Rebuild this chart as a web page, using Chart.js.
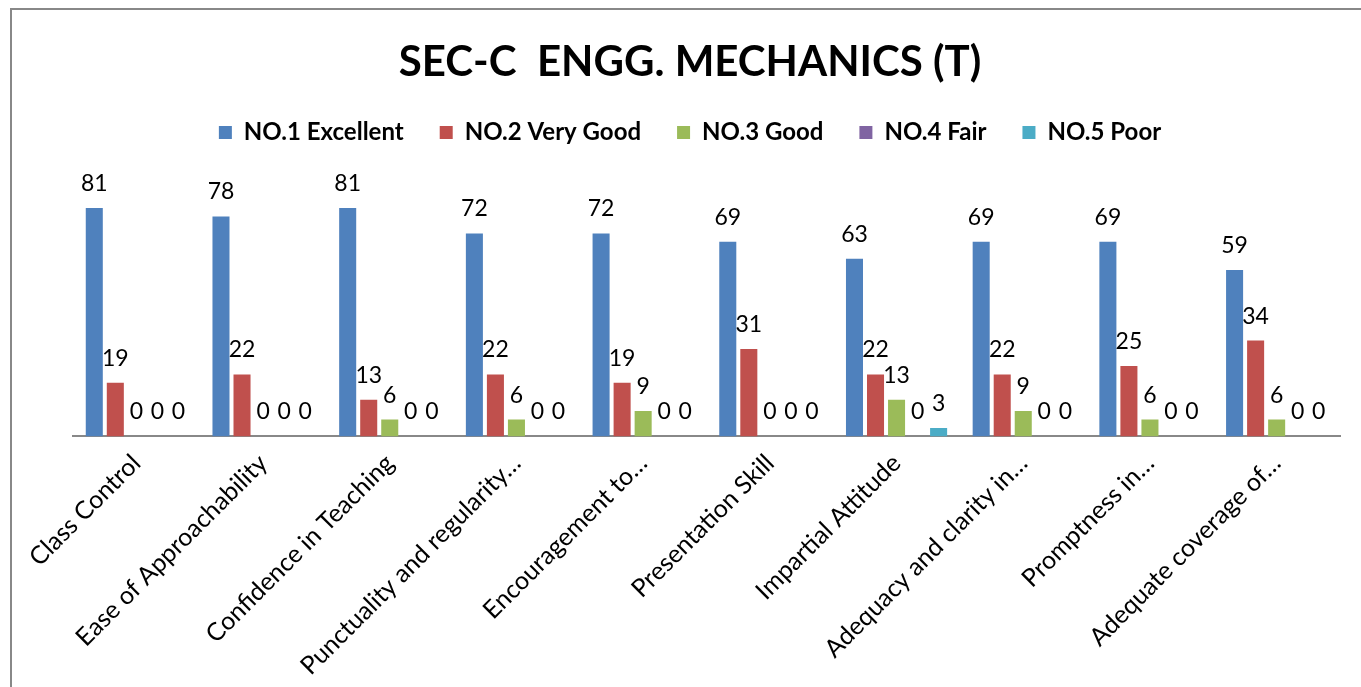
<!DOCTYPE html>
<html>
<head>
<meta charset="utf-8">
<script src="https://cdn.jsdelivr.net/npm/chart.js@4"></script>
<style>
    body { margin: 0; background: #fff; }
    #wrap { position: relative; width: 1361px; height: 687px; }
    #frame { position: absolute; left: 10px; top: 8px; width: 1400px; height: 700px;
             border-left: 2px solid #888; border-top: 2px solid #888; pointer-events: none; }
</style>
</head>
<body>
<div id="wrap">
    <canvas id="myChart" width="1361" height="687"></canvas>
    <div id="frame"></div>
</div>
<script>
// categories (Excel truncated the long ones)
var labels = ["Class Control", "Ease of Approachability", "Confidence in Teaching",
    "Punctuality and regularity…", "Encouragement to…", "Presentation Skill",
    "Impartial Attitude", "Adequacy and clarity in…", "Promptness in…", "Adequate coverage of…"];

var excellent = [81, 78, 81, 72, 72, 69, 63, 69, 69, 59];
var veryGood  = [19, 22, 13, 22, 19, 31, 22, 22, 25, 34];
var good      = [0, 0, 6, 6, 9, 0, 13, 9, 6, 6];
var fair      = [0, 0, 0, 0, 0, 0, 0, 0, 0, 0];
var poor      = [0, 0, 0, 0, 0, 0, 3, 0, 0, 0];

var seriesNames = ["NO.1 Excellent", "NO.2 Very Good", "NO.3 Good", "NO.4 Fair", "NO.5 Poor"];
var colors = ["#4F81BD", "#C0504D", "#9BBB59", "#8064A2", "#4BACC6"];

//draws the value above every bar
var valueLabels = {
    id: "valueLabels",
    afterDatasetsDraw: function (chart) {
        var ctx = chart.ctx;
        ctx.save();
        ctx.font = "23px Lato";
        ctx.fillStyle = "#000";
        ctx.textAlign = "center";
        ctx.textBaseline = "alphabetic";
        chart.data.datasets.forEach(function (ds, i) {
            var meta = chart.getDatasetMeta(i);
            meta.data.forEach(function (bar, j) {
                ctx.fillText(ds.data[j], bar.x, bar.y - 17);
            });
        });
        ctx.restore();
    }
};

var allData = [excellent, veryGood, good, fair, poor];
var datasets = [];
for (var i = 0; i < allData.length; i++) {
    datasets.push({
        label: seriesNames[i],
        data: allData[i],
        backgroundColor: colors[i],
        categoryPercentage: 0.83,
        barPercentage: 0.81
    });
}

var chart = new Chart(document.getElementById("myChart"), {
    type: "bar",
    data: { labels: labels, datasets: datasets },
    plugins: [valueLabels],
    options: {
        responsive: false,
        animation: false,
        layout: { padding: { left: 40, right: 21, top: 37, bottom: -6 } },
        plugins: {
            title: {
                display: true,
                text: "SEC-C  ENGG. MECHANICS (T)",
                color: "#000",
                font: { family: "Lato", size: 42, weight: "bold" },
                padding: { top: 0, bottom: -3 }
            },
            legend: {
                labels: {
                    boxWidth: 13,
                    boxHeight: 13,
                    padding: 36,
                    color: "#000",
                    font: { family: "Lato", size: 24, weight: "bold" }
                }
            },
            tooltip: { enabled: false }
        },
        scales: {
            x: {
                grid: { display: false, drawTicks: false },
                border: { display: true, color: "#888", width: 2 },
                ticks: {
                    color: "#000",
                    font: { family: "Lato", size: 25 },
                    minRotation: 45,
                    maxRotation: 45,
                    padding: 12
                }
            },
            y: {
                // hidden axis, only keeps an empty strip left of the bars
                min: 0,
                max: 100,
                grid: { display: false, drawTicks: false },
                border: { display: false },
                ticks: { display: false },
                afterFit: function (scale) { scale.width = 33; }
            }
        }
    }
});
</script>
</body>
</html>
